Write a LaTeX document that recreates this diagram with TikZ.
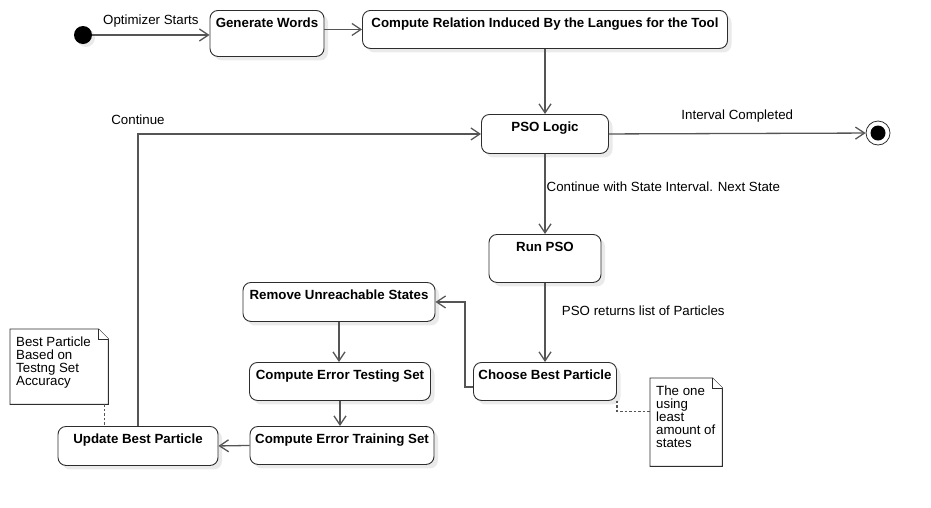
\documentclass[tikz,border=0pt]{standalone}
\usepackage{fontspec}
\setmainfont{Liberation Sans}
\usetikzlibrary{arrows.meta,shadows}
\definecolor{edgegray}{RGB}{85,85,85}
\definecolor{boxgray}{RGB}{45,45,45}
\definecolor{shadegray}{RGB}{234,234,234}
\newcommand{\notepaper}[1]{%
  \draw[notedraw] (#1.north west) -- ([xshift=-10pt]#1.north east) -- ([yshift=-10pt]#1.north east) -- (#1.south east) -- (#1.south west) -- cycle;
  \draw[notedraw, line width=0.6pt] ([xshift=-10pt]#1.north east) -- ([xshift=-10pt,yshift=-10pt]#1.north east) -- ([yshift=-10pt]#1.north east);}

\begin{document}
\begin{tikzpicture}[x=1pt, y=-1pt,
  font=\fontsize{13.3}{13}\selectfont,
  state/.style={draw=boxgray, line width=0.9pt, rounded corners=8pt, fill=white,
    font=\fontsize{13.3}{13}\selectfont\bfseries, anchor=north,
    inner xsep=2pt, inner ysep=4pt, text height=12.8pt,
    drop shadow={shadow xshift=4pt, shadow yshift=-4pt, fill=shadegray, opacity=1}},
  initial/.style={circle, fill=black, minimum size=18pt, inner sep=0pt,
    drop shadow={shadow xshift=3pt, shadow yshift=-3pt, fill=shadegray, opacity=1}},
  final/.style={circle, draw=boxgray, line width=0.8pt, fill=white, minimum size=24pt, inner sep=0pt},
  arr/.style={draw=edgegray, line width=1.3pt, -{Straight Barb[length=9pt,width=12pt]}},
  link/.style={draw=edgegray, line width=1.3pt, dash pattern=on 2.5pt off 2pt},
  notedraw/.style={draw=boxgray, line width=0.9pt, fill=white},
  note/.style={anchor=north west, inner sep=0pt},
  notetext/.style={anchor=north west, align=left, inner xsep=6pt, inner ysep=8pt}]
  \useasboundingbox (0,0) rectangle (931,507);

  \node[initial] (start) at (83,35) {};
  \node[state, minimum width=114, text depth=25.2pt] (gw) at (267,10) {Generate Words};
  \node[state, minimum width=365, text depth=17.2pt] (rel) at (545,10) {Compute Relation Induced By the Langues for the Tool};
  \node[state, minimum width=127, text depth=18.2pt] (pso) at (545,114) {PSO Logic};
  \node[final] (fin) at (878,133) {};
  \fill[black] (fin) circle (7.5);
  \node[state, minimum width=112, text depth=27.2pt] (run) at (545,234) {Run PSO};
  \node[state, minimum width=143, text depth=17.2pt] (choose) at (545,362) {Choose Best Particle};
  \node[state, minimum width=192, text depth=18.2pt] (remove) at (339,282) {Remove Unreachable States};
  \node[state, minimum width=181, text depth=17.2pt] (testing) at (340,362) {Compute Error Testing Set};
  \node[state, minimum width=184, text depth=17.2pt] (training) at (342,426) {Compute Error Training Set};
  \node[state, minimum width=160, text depth=18.2pt] (update) at (138,426) {Update Best Particle};

  \node[note, minimum width=98, minimum height=75] (bestnote) at (10,329) {};
  \notepaper{bestnote}
  \node[notetext] (besttext) at (bestnote.north west) {Best Particle\\Based on\\Testng Set\\Accuracy};
  \node[note, minimum width=72, minimum height=88] (leastnote) at (650,378) {};
  \notepaper{leastnote}
  \node[notetext] (leasttext) at (leastnote.north west) {The one\\using\\least\\amount of\\states};

  \draw[arr] (start) -- (start -| gw.west) node[midway, above=4pt] (lstart) {Optimizer Starts};
  \draw[arr] (gw.east |- rel.west) -- (rel.west);
  \draw[arr] (rel.south) -- (pso.north);
  \draw[arr] (pso.east) -- (fin) node[midway, above=7pt] (ldone) {Interval Completed};
  \draw[arr] (pso.south) -- (run.north) node[pos=0.41, anchor=west, inner xsep=1pt] (lnext) {Continue with State Interval. Next State};
  \draw[arr] (run.south) -- (choose.north) node[pos=0.35, right=13pt] (lreturn) {PSO returns list of Particles};
  \draw[arr] ([yshift=14pt]choose.south west) -- ++(-8,0) |- (remove.east);
  \draw[arr] (remove.south) -- (remove.south |- testing.north);
  \draw[arr] (testing.south) -- (testing.south |- training.north);
  \draw[arr] (training.west) -- (update.east);
  \draw[arr] (update.north) |- (pso.west) node[pos=0.5, above=5pt] (lcont) {Continue};

  \draw[link] ([xshift=-4pt]bestnote.south east) -- ([xshift=-4pt]bestnote.south east |- update.north);
  \draw[link] (choose.south east) |- ([yshift=11pt]leastnote.west);
\end{tikzpicture}
\end{document}
